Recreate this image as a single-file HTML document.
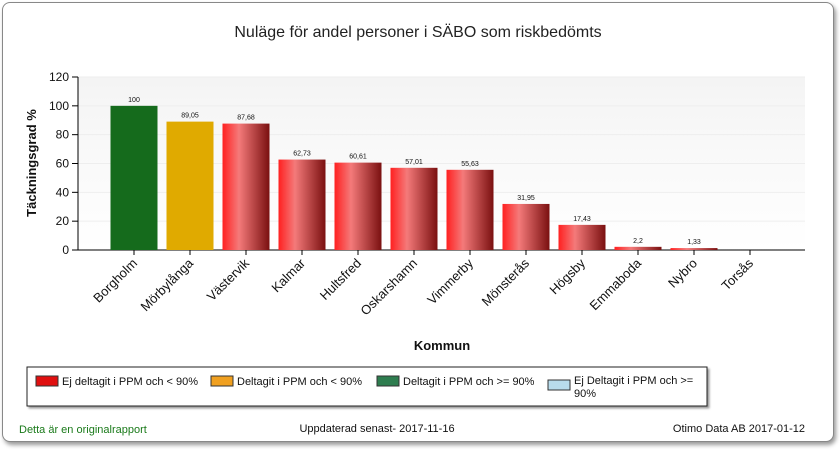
<!DOCTYPE html>
<html><head><meta charset="utf-8">
<style>
body{margin:0;width:840px;height:450px;background:#fff;font-family:"Liberation Sans",sans-serif;overflow:hidden}
#frame{position:absolute;left:2px;top:2px;width:830px;height:438px;border:1px solid #888;border-radius:8px;background:#fff;box-shadow:2px 3px 4px #999}
</style></head><body>
<div id="frame"></div>
<svg width="840" height="450" style="position:absolute;left:0;top:0">
<defs>
<linearGradient id="red" x1="0" x2="1"><stop offset="0" stop-color="#ff2020"/><stop offset="0.35" stop-color="#f47a7a"/><stop offset="1" stop-color="#7a1010"/></linearGradient>
<linearGradient id="bg" x1="0" y1="0" x2="0" y2="1"><stop offset="0" stop-color="#f4f4f4"/><stop offset="1" stop-color="#ffffff"/></linearGradient>
</defs>
<text x="418" y="37" text-anchor="middle" font-size="16" fill="#222">Nuläge för andel personer i SÄBO som riskbedömts</text>
<rect x="78" y="77" width="727" height="173" fill="url(#bg)"/>
<g id="axes"></g>
<g id="bars"></g>
<text transform="translate(36,163) rotate(-90)" text-anchor="middle" font-size="13" font-weight="bold" fill="#111">Täckningsgrad %</text>
<text x="442" y="350" text-anchor="middle" font-size="13" font-weight="bold" fill="#111">Kommun</text>
<g>
<rect x="27" y="367" width="680" height="39" fill="#fff" stroke="#222" style="filter:drop-shadow(2px 2px 1px #999)"/>
<rect x="36" y="376" width="22" height="10" fill="#e01010" stroke="#333"/>
<text x="62" y="385" font-size="11" fill="#111">Ej deltagit i PPM och &lt; 90%</text>
<rect x="211" y="376" width="22" height="10" fill="#f0a020" stroke="#333"/>
<text x="237" y="385" font-size="11" fill="#111">Deltagit i PPM och &lt; 90%</text>
<rect x="377" y="376" width="22" height="10" fill="#2e7d4f" stroke="#333"/>
<text x="403" y="385" font-size="11" fill="#111">Deltagit i PPM och &gt;= 90%</text>
<rect x="548" y="380" width="22" height="10" fill="#b8dcec" stroke="#333"/>
<text x="574" y="384" font-size="11" fill="#111">Ej Deltagit i PPM och &gt;=</text>
<text x="574" y="397" font-size="11" fill="#111">90%</text>
</g>
<text x="19" y="433" font-size="11" fill="#1a7a1a">Detta är en originalrapport</text>
<text x="377" y="432" text-anchor="middle" font-size="11" fill="#111">Uppdaterad senast- 2017-11-16</text>
<text x="805" y="432" text-anchor="end" font-size="11" fill="#111">Otimo Data AB 2017-01-12</text>
</svg>
<script>
const categories=["Borgholm","Mörbylånga","Västervik","Kalmar","Hultsfred","Oskarshamn","Vimmerby","Mönsterås","Högsby","Emmaboda","Nybro","Torsås"];
const values=[100,89.05,87.68,62.73,60.61,57.01,55.63,31.95,17.43,2.2,1.33,0];
const labels=["100","89,05","87,68","62,73","60,61","57,01","55,63","31,95","17,43","2,2","1,33",""];
const colors=["#156b1c","#e0aa00","red","red","red","red","red","red","red","red","red","red"];
const yTicks=[0,20,40,60,80,100,120];
const NS="http://www.w3.org/2000/svg";
const X0=78,X1=805,Y0=250,Y1=77,step=56;
const y=v=>Y0-(v/120)*(Y0-Y1);
const xc=i=>X0+step*(i+1);
const axes=document.getElementById('axes'),bars=document.getElementById('bars');
function mk(tag,attrs,parent){const e=document.createElementNS(NS,tag);for(const k in attrs)e.setAttribute(k,attrs[k]);parent.appendChild(e);return e;}
yTicks.forEach(t=>{
 const g=mk('line',{x1:X0,x2:X1,y1:y(t),y2:y(t),stroke:'#eee'},axes);
 
 
 mk('line',{x1:X0-6,x2:X0,y1:y(t),y2:y(t),stroke:'#000'},axes);
 const tx=mk('text',{x:X0-9,y:y(t)+4,'text-anchor':'end','font-size':12,fill:'#111'},axes);
 tx.textContent=t;
 
 
});
mk('line',{x1:X0,x2:X0,y1:Y1,y2:Y0,stroke:'#000'},axes);
mk('line',{x1:X0,x2:X1,y1:Y0,y2:Y0,stroke:'#000'},axes);
categories.forEach((c,i)=>{
 const cx=xc(i),w=47;
 mk('line',{x1:cx,x2:cx,y1:Y0,y2:Y0+5,stroke:'#000'},axes);
 const r=mk('rect',{x:cx-w/2,y:y(values[i]),width:w,height:Y0-y(values[i]),fill:colors[i]==='red'?'url(#red)':colors[i]},bars);
 
 
 const lv=mk('text',{x:cx,y:y(values[i])-4,'text-anchor':'middle','font-size':7,fill:'#111'},bars);
 lv.textContent=labels[i];
 
 
 const lx=mk('text',{x:cx+4,y:Y0+14,'text-anchor':'end','font-size':13,fill:'#111',transform:`rotate(-45 ${cx+4} ${Y0+14})`},axes);
 lx.textContent=c;
 
 
});
</script>
</body></html>
